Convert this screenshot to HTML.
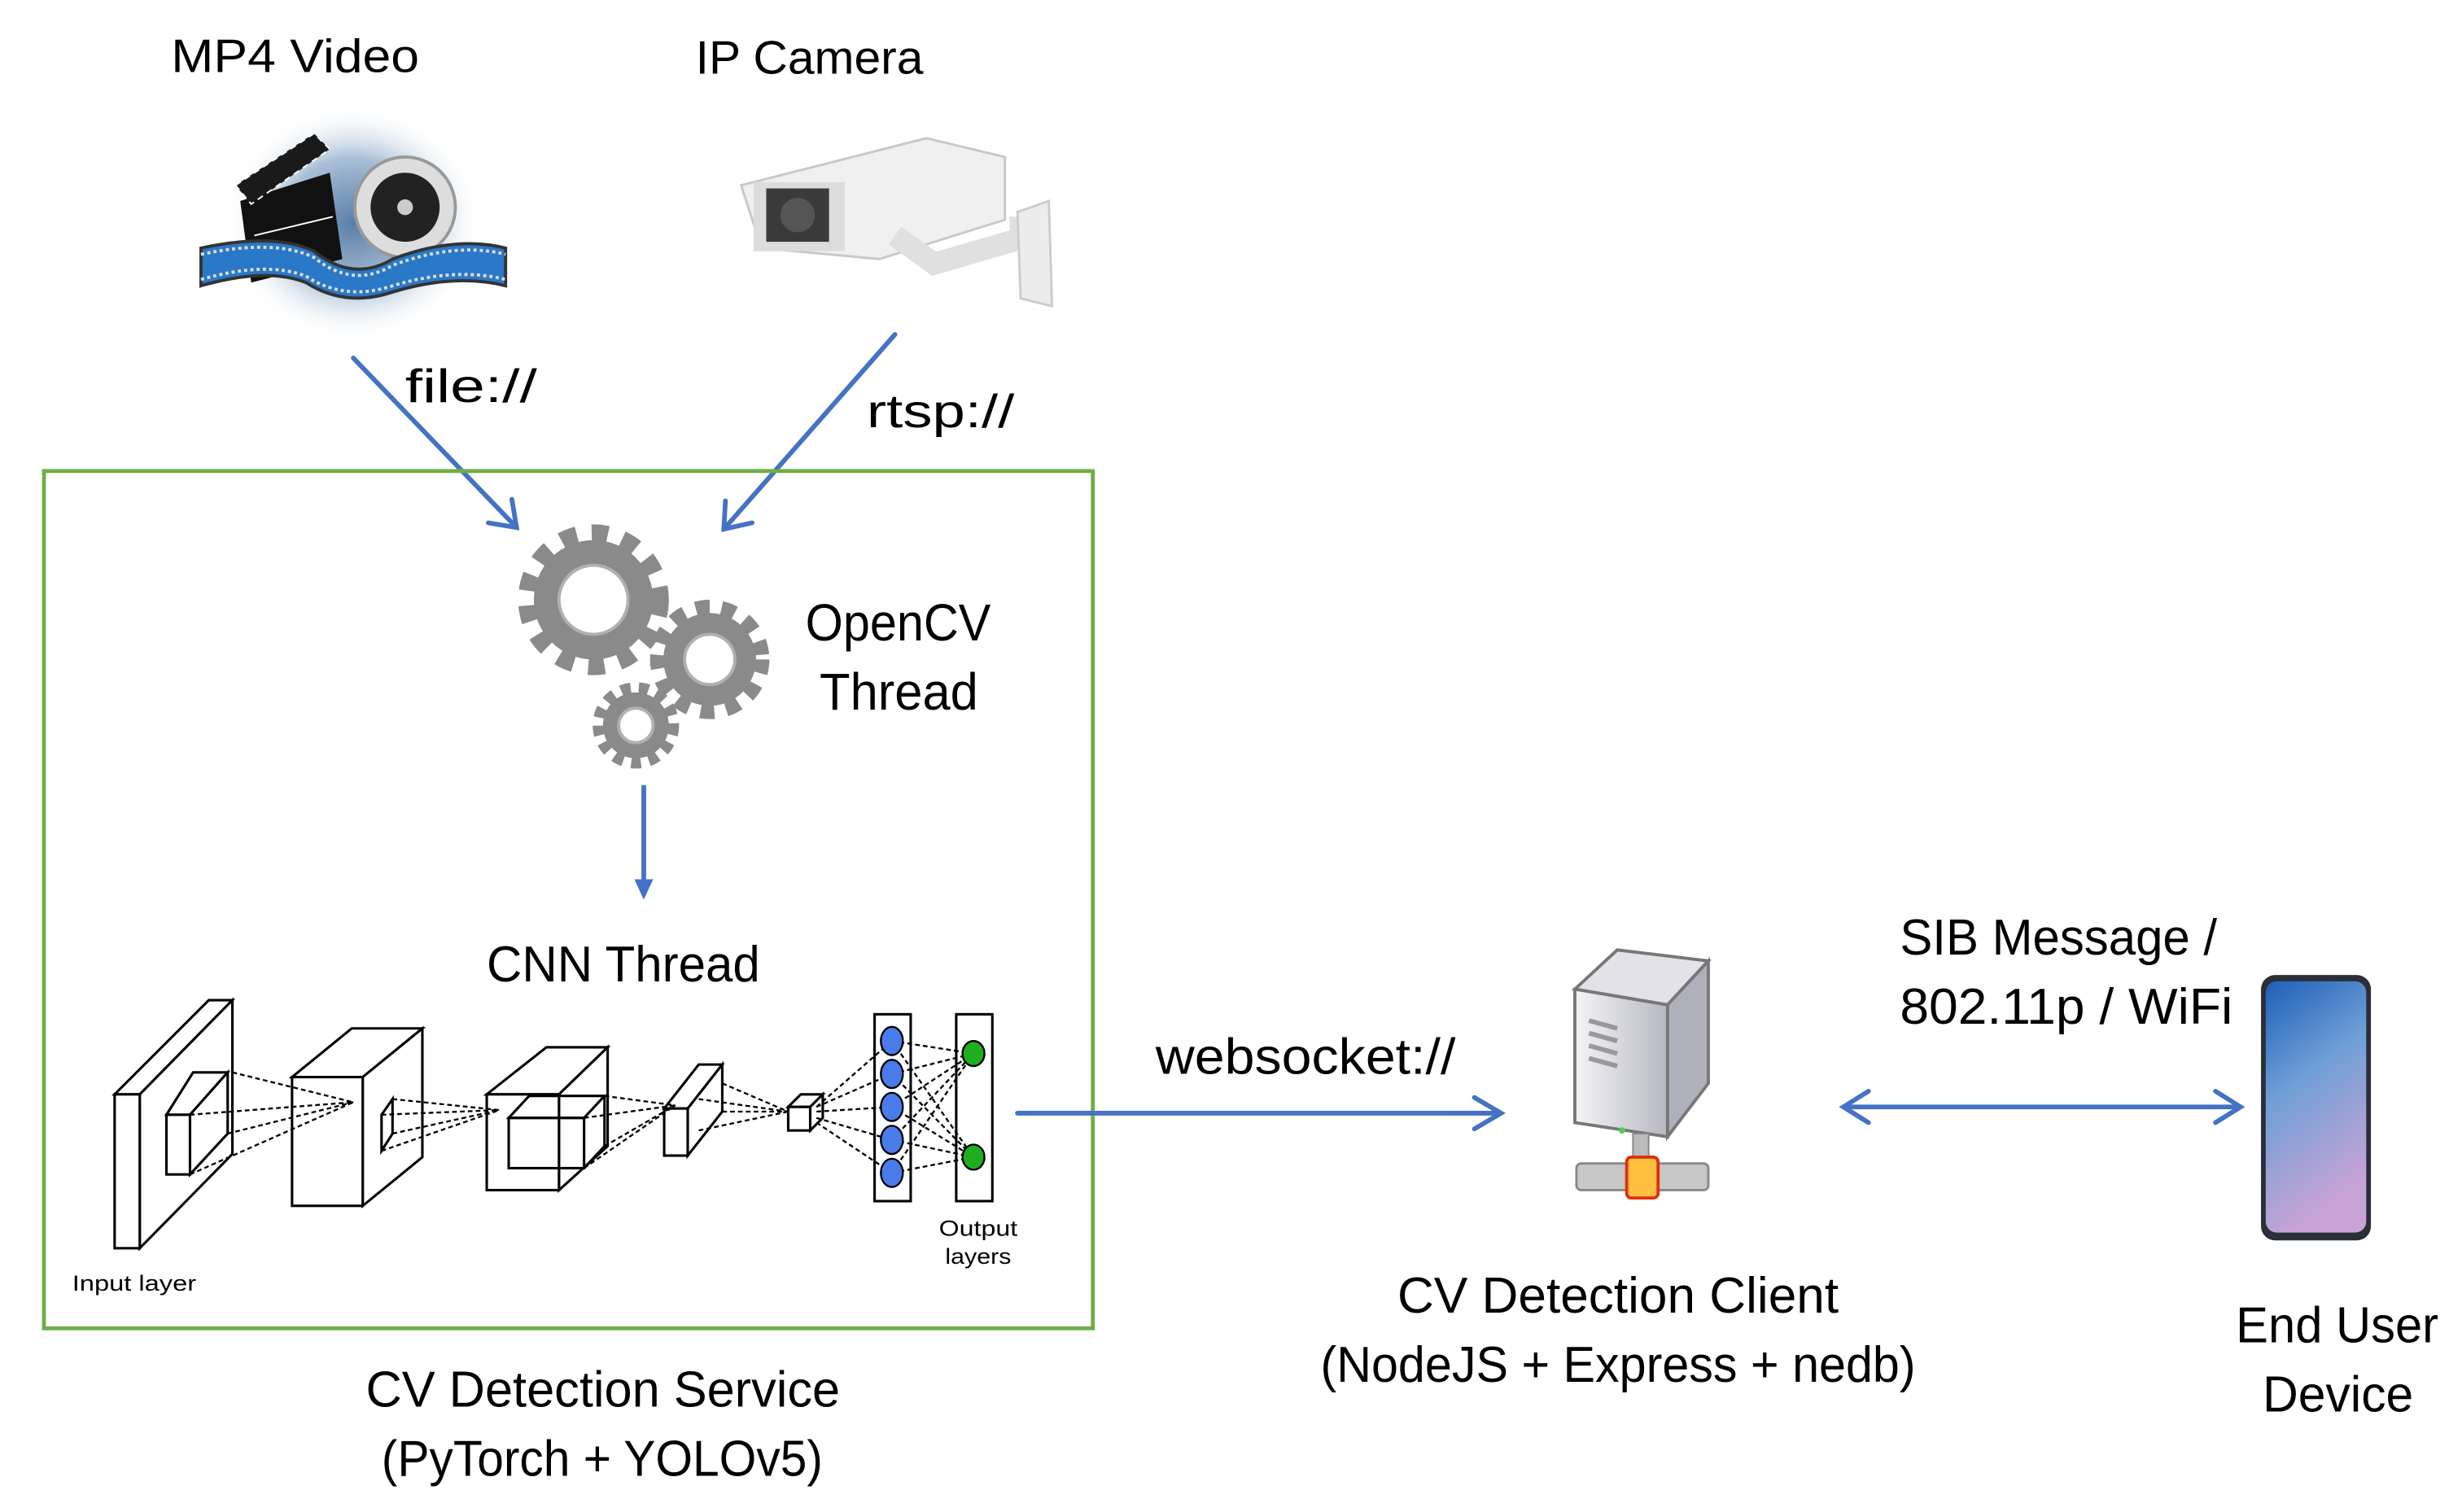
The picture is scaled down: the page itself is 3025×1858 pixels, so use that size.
<!DOCTYPE html>
<html><head><meta charset="utf-8"><style>
html,body{margin:0;padding:0;background:#fff;}
svg{display:block;}
text{font-family:"Liberation Sans",sans-serif;fill:#000;}
</style></head><body>
<svg width="3025" height="1858" viewBox="0 0 1568 963" preserveAspectRatio="none" xmlns="http://www.w3.org/2000/svg">
<defs>
<radialGradient id="glow" cx="50%" cy="50%" r="50%">
<stop offset="0" stop-color="#5a7fa8"/><stop offset="0.55" stop-color="#a9bfd6"/><stop offset="1" stop-color="#ffffff" stop-opacity="0"/>
</radialGradient>
<linearGradient id="scr" x1="0" y1="0" x2="0.3" y2="1">
<stop offset="0" stop-color="#1d5fb8"/><stop offset="0.45" stop-color="#6f9fd6"/><stop offset="1" stop-color="#c9a3d6"/>
</linearGradient>
<linearGradient id="srv" x1="0" y1="0" x2="1" y2="0">
<stop offset="0" stop-color="#f4f4f6"/><stop offset="1" stop-color="#b8b8c4"/>
</linearGradient>
</defs>

<text x="109" y="46" font-size="30" textLength="158" lengthAdjust="spacingAndGlyphs">MP4 Video</text>
<text x="443" y="47" font-size="30" textLength="145" lengthAdjust="spacingAndGlyphs">IP Camera</text>

<!-- video icon -->
<ellipse cx="225" cy="142" rx="82" ry="75" fill="url(#glow)"/>
<polygon points="153,128 210,110 218,165 160,180" fill="#111"/>
<polygon points="150,118 200,85 210,95 160,130" fill="#1a1a1a" stroke="#fff" stroke-width="1" stroke-dasharray="4 3"/>
<line x1="162" y1="150" x2="212" y2="138" stroke="#fff" stroke-width="1"/>
<circle cx="258" cy="132" r="32" fill="#ddd" stroke="#999" stroke-width="2"/>
<circle cx="258" cy="132" r="22" fill="#222"/>
<circle cx="258" cy="132" r="5" fill="#ccc"/>
<path d="M128,158 Q175,148 200,160 Q225,180 250,165 Q290,150 322,158 L322,182 Q290,174 250,186 Q220,196 195,180 Q170,170 128,182 Z" fill="#2a78c8" stroke="#333" stroke-width="2"/>
<path d="M128,162 Q175,152 200,164 Q225,184 250,169 Q290,154 322,162" fill="none" stroke="#ddd" stroke-width="2" stroke-dasharray="2 2"/>
<path d="M128,178 Q170,166 195,176 Q220,192 250,182 Q290,170 322,178" fill="none" stroke="#ddd" stroke-width="2" stroke-dasharray="2 2"/>

<!-- camera -->
<polygon points="472,118 590,88 640,100 640,140 560,165 485,158" fill="#f0f0f0" stroke="#c8c8c8" stroke-width="1.5"/>
<rect x="480" y="116" width="58" height="44" fill="#dcdcdc"/>
<rect x="488" y="120" width="40" height="34" fill="#3a3a3a"/>
<circle cx="508" cy="137" r="11" fill="#555"/>
<path d="M570,150 L595,168 L650,152 L650,138" fill="none" stroke="#e0e0e0" stroke-width="14"/>
<polygon points="648,135 668,128 670,195 650,190" fill="#ececec" stroke="#ccc" stroke-width="1.5"/>

<g stroke="#4472C4" stroke-width="3" fill="none" stroke-linecap="round">
<line x1="225" y1="228" x2="329" y2="336"/>
<polyline points="311,333 329,336 326,318"/>
<line x1="570" y1="213" x2="461" y2="337"/>
<polyline points="462,319 461,337 479,333"/>
</g>
<text x="258" y="256" font-size="30" textLength="84" lengthAdjust="spacingAndGlyphs">file://</text>
<text x="552" y="272" font-size="30" textLength="94" lengthAdjust="spacingAndGlyphs">rtsp://</text>

<rect x="28" y="300" width="668" height="546" fill="none" stroke="#70AD47" stroke-width="2.5"/>

<g fill="none" stroke="#8a8a8a">
<circle cx="378" cy="382" r="41" stroke-width="14" stroke-dasharray="10 9.2"/>
<circle cx="378" cy="382" r="30" stroke-width="16"/>
<circle cx="452" cy="420" r="32" stroke-width="12" stroke-dasharray="8.5 7.3"/>
<circle cx="452" cy="420" r="23" stroke-width="13"/>
<circle cx="405" cy="462" r="23" stroke-width="9" stroke-dasharray="6 5"/>
<circle cx="405" cy="462" r="16" stroke-width="10"/>
</g>
<circle cx="378" cy="382" r="22" fill="#fff" stroke="#b0b0b0" stroke-width="2"/>
<circle cx="452" cy="420" r="16" fill="#fff" stroke="#b0b0b0" stroke-width="2"/>
<circle cx="405" cy="462" r="11" fill="#fff" stroke="#b0b0b0" stroke-width="2"/>
<text x="513" y="408" font-size="33" textLength="118" lengthAdjust="spacingAndGlyphs">OpenCV</text>
<text x="522" y="452" font-size="33" textLength="101" lengthAdjust="spacingAndGlyphs">Thread</text>

<line x1="410" y1="500" x2="410" y2="570" stroke="#4472C4" stroke-width="3"/>
<polygon points="404,560 416,560 410,573" fill="#4472C4"/>

<text x="310" y="625" font-size="32" textLength="174" lengthAdjust="spacingAndGlyphs">CNN Thread</text>

<g fill="#fff" stroke="#000" stroke-width="1.6">
<polygon points="73,697 133,637 148,637 89,697"/>
<polygon points="89,697 148,637 148,735 89,795"/>
<rect x="73" y="697" width="16" height="98"/>
<polygon points="106,710 123,683 145,683 121,710"/>
<polygon points="121,710 145,683 145,722 121,748"/>
<rect x="106" y="710" width="15" height="38"/>
<polygon points="186,686 224,655 269,655 231,686"/>
<polygon points="231,686 269,655 269,737 231,768"/>
<rect x="186" y="686" width="45" height="82"/>
<polygon points="243,710 250,700 250,722 243,733" fill="none"/>
<polygon points="310,697 348,667 387,667 356,697"/>
<polygon points="356,697 387,667 387,730 356,758"/>
<rect x="310" y="697" width="46" height="61"/>
<polygon points="324,712 337,698 385,698 372,712" fill="none"/>
<rect x="324" y="712" width="48" height="32" fill="none"/>
<line x1="372" y1="744" x2="385" y2="730"/><line x1="385" y1="698" x2="385" y2="730"/>
<polygon points="423,706 445,678 460,678 438,706"/>
<polygon points="438,706 460,678 460,708 438,736"/>
<rect x="423" y="706" width="15" height="30"/>
<polygon points="502,705 510,697 524,697 516,705"/>
<polygon points="516,705 524,697 524,712 516,720"/>
<rect x="502" y="705" width="14" height="15"/>
<rect x="557" y="646" width="23" height="119"/>
<rect x="609" y="646" width="23" height="119"/>
</g>
<g stroke="#000" stroke-width="1.2" stroke-dasharray="3 2" fill="none">
<line x1="148" y1="683" x2="225" y2="702"/><line x1="145" y1="722" x2="225" y2="702"/>
<line x1="121" y1="710" x2="225" y2="702"/><line x1="121" y1="748" x2="225" y2="702"/>
<line x1="250" y1="700" x2="318" y2="707"/><line x1="250" y1="722" x2="318" y2="707"/><line x1="243" y1="710" x2="318" y2="707"/><line x1="243" y1="733" x2="318" y2="707"/>
<line x1="385" y1="698" x2="430" y2="704"/><line x1="385" y1="730" x2="430" y2="704"/><line x1="372" y1="712" x2="430" y2="704"/><line x1="372" y1="744" x2="430" y2="704"/>
<line x1="460" y1="690" x2="502" y2="708"/><line x1="460" y1="708" x2="502" y2="708"/><line x1="445" y1="700" x2="502" y2="708"/><line x1="445" y1="720" x2="502" y2="708"/>
<line x1="520" y1="705" x2="568" y2="663"/><line x1="520" y1="705" x2="568" y2="684"/><line x1="520" y1="708" x2="568" y2="705"/><line x1="520" y1="712" x2="568" y2="726"/><line x1="520" y1="715" x2="568" y2="747"/>
<line x1="568" y1="663" x2="620" y2="671"/><line x1="568" y1="684" x2="620" y2="671"/><line x1="568" y1="705" x2="620" y2="671"/><line x1="568" y1="726" x2="620" y2="671"/><line x1="568" y1="747" x2="620" y2="671"/>
<line x1="568" y1="663" x2="620" y2="737"/><line x1="568" y1="684" x2="620" y2="737"/><line x1="568" y1="705" x2="620" y2="737"/><line x1="568" y1="726" x2="620" y2="737"/><line x1="568" y1="747" x2="620" y2="737"/>
</g>
<g fill="#4a7bea" stroke="#000" stroke-width="1.2">
<ellipse cx="568" cy="663" rx="7" ry="9"/><ellipse cx="568" cy="684" rx="7" ry="9"/><ellipse cx="568" cy="705" rx="7" ry="9"/><ellipse cx="568" cy="726" rx="7" ry="9"/><ellipse cx="568" cy="747" rx="7" ry="9"/>
</g>
<g fill="#1fae1f" stroke="#000" stroke-width="1.2">
<ellipse cx="620" cy="671" rx="7" ry="8"/><ellipse cx="620" cy="737" rx="7" ry="8"/>
</g>
<text x="46" y="822" font-size="14" textLength="79" lengthAdjust="spacingAndGlyphs">Input layer</text>
<text x="598" y="787" font-size="14" textLength="50" lengthAdjust="spacingAndGlyphs">Output</text>
<text x="602" y="805" font-size="14" textLength="42" lengthAdjust="spacingAndGlyphs">layers</text>

<text x="233" y="896" font-size="32" textLength="302" lengthAdjust="spacingAndGlyphs">CV Detection Service</text>
<text x="243" y="940" font-size="32" textLength="281" lengthAdjust="spacingAndGlyphs">(PyTorch + YOLOv5)</text>

<g stroke="#4472C4" stroke-width="3" fill="none" stroke-linecap="round">
<line x1="648" y1="709" x2="955" y2="709"/>
<polyline points="939,699 956,709 939,719"/>
<line x1="1175" y1="705" x2="1426" y2="705"/>
<polyline points="1190,695 1174,705 1190,715"/>
<polyline points="1411,695 1427,705 1411,715"/>
</g>
<text x="736" y="684" font-size="32" textLength="191" lengthAdjust="spacingAndGlyphs">websocket://</text>

<polygon points="1003,630 1030,605 1088,612 1062,640" fill="#e2e2e8" stroke="#777" stroke-width="2"/>
<polygon points="1062,640 1088,612 1088,690 1062,724" fill="#b0b0bd" stroke="#777" stroke-width="2"/>
<polygon points="1003,630 1062,640 1062,724 1003,715" fill="url(#srv)" stroke="#777" stroke-width="2"/>
<g stroke="#999" stroke-width="3"><line x1="1012" y1="650" x2="1030" y2="655"/><line x1="1012" y1="658" x2="1030" y2="663"/><line x1="1012" y1="666" x2="1030" y2="671"/><line x1="1012" y1="674" x2="1030" y2="679"/></g>
<circle cx="1033" cy="720" r="2" fill="#5c5"/>
<rect x="1040" y="722" width="10" height="20" fill="#bbb" stroke="#888"/>
<rect x="1004" y="741" width="84" height="17" rx="3" fill="#c8c8c8" stroke="#888" stroke-width="1.5"/>
<rect x="1036" y="737" width="20" height="26" rx="3" fill="#ffc040" stroke="#e03010" stroke-width="2"/>

<text x="890" y="836" font-size="32" textLength="281" lengthAdjust="spacingAndGlyphs">CV Detection Client</text>
<text x="841" y="880" font-size="32" textLength="379" lengthAdjust="spacingAndGlyphs">(NodeJS + Express + nedb)</text>

<text x="1210" y="608" font-size="32" textLength="202" lengthAdjust="spacingAndGlyphs">SIB Message /</text>
<text x="1210" y="652" font-size="32" textLength="212" lengthAdjust="spacingAndGlyphs">802.11p / WiFi</text>

<rect x="1440" y="621" width="70" height="169" rx="9" fill="#2a2f3a"/>
<rect x="1443" y="625" width="64" height="160" rx="7" fill="url(#scr)"/>

<text x="1424" y="855" font-size="32" textLength="129" lengthAdjust="spacingAndGlyphs">End User</text>
<text x="1441" y="899" font-size="32" textLength="96" lengthAdjust="spacingAndGlyphs">Device</text>
</svg>
</body></html>
